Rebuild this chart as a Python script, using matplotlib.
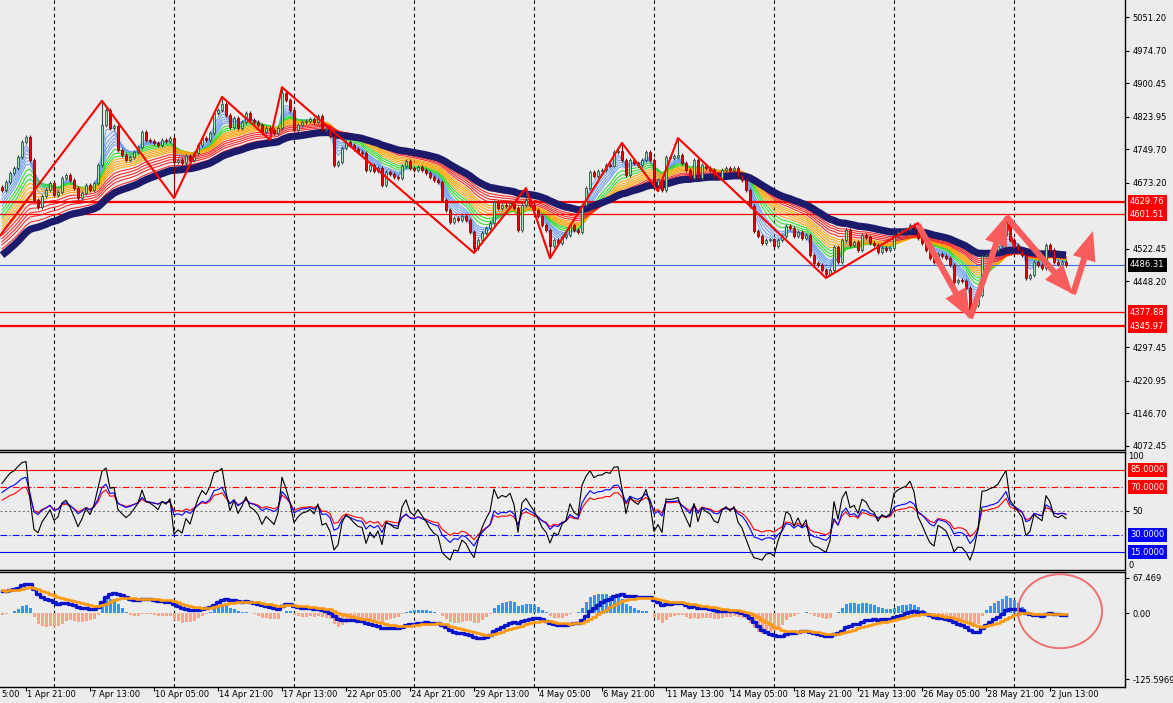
import matplotlib
matplotlib.use("Agg")
import matplotlib.pyplot as plt
import matplotlib.transforms as mtransforms
from matplotlib.patches import Ellipse
import numpy as np

plt.rcParams['font.family'] = ['DejaVu Sans']
plt.rcParams['font.size'] = 6

# ---- data (H4 candles) ------------------------------------------------
first_open = 4662
closes = [
    4657, 4675, 4695, 4707, 4732, 4766, 4777, 4725, 4634, 4618,
    4643, 4657, 4673, 4645, 4652, 4684, 4691, 4679, 4661, 4638,
    4650, 4668, 4657, 4673, 4714, 4805, 4839, 4798, 4802, 4748,
    4736, 4725, 4732, 4743, 4755, 4789, 4771, 4768, 4764, 4759,
    4771, 4768, 4775, 4720, 4725, 4718, 4734, 4725, 4741, 4759,
    4775, 4771, 4787, 4832, 4839, 4853, 4828, 4800, 4821, 4798,
    4812, 4832, 4816, 4812, 4805, 4789, 4798, 4793, 4787, 4798,
    4878, 4862, 4839, 4793, 4805, 4812, 4814, 4818, 4812, 4825,
    4793, 4795, 4780, 4714, 4720, 4752, 4766, 4759, 4750, 4743,
    4741, 4702, 4714, 4700, 4707, 4668, 4698, 4693, 4686, 4684,
    4711, 4723, 4707, 4702, 4709, 4702, 4695, 4686, 4679, 4675,
    4634, 4611, 4584, 4593, 4588, 4597, 4588, 4561, 4524, 4542,
    4558, 4570, 4581, 4629, 4615, 4622, 4620, 4627, 4615, 4565,
    4622, 4634, 4622, 4611, 4597, 4577, 4565, 4529, 4542, 4536,
    4549, 4554, 4577, 4565, 4561, 4622, 4661, 4698, 4688, 4700,
    4702, 4714, 4713, 4743, 4745, 4725, 4691, 4725, 4718, 4714,
    4725, 4743, 4725, 4668, 4679, 4657, 4732, 4731, 4733, 4736,
    4718, 4702, 4684, 4725, 4684, 4714, 4707, 4702, 4688, 4684,
    4702, 4707, 4702, 4707, 4688, 4679, 4657, 4620, 4563, 4552,
    4536, 4542, 4543, 4529, 4542, 4552, 4574, 4570, 4552, 4561,
    4547, 4554, 4508, 4490, 4485, 4474, 4465, 4474, 4526, 4492,
    4542, 4565, 4531, 4537, 4520, 4554, 4549, 4536, 4531, 4515,
    4524, 4520, 4524, 4554, 4561, 4565, 4568, 4577, 4570, 4547,
    4536, 4520, 4501, 4492, 4510, 4506, 4501, 4485, 4447, 4451,
    4449, 4433, 4383, 4394, 4417, 4506, 4508, 4515, 4520, 4529,
    4554, 4588, 4542, 4531, 4520, 4508, 4456, 4463, 4492, 4485,
    4479, 4531, 4520, 4492, 4488, 4492, 4486.31,
]

# zigzag pivots (candle index, price)
zigzag_idx = [-3, 25, 43, 55, 67, 70, 118, 131, 137, 155, 164, 169, 206, 229, 242, 251, 253]
zigzag_price = [4522, 4860, 4638, 4869, 4771, 4891, 4513, 4661, 4501, 4764,
                4654, 4775, 4456, 4581, 4366, 4594, 4526]

# moving-average ribbon, value of each average at the first candle
ribbon_periods = [3, 4, 5, 6, 7, 8, 10, 12, 14, 16, 18, 20, 22, 24, 27, 30, 33, 36, 40]
ribbon_start = [4661, 4650, 4638, 4627, 4618, 4609, 4601, 4593, 4584, 4579,
                4572, 4565, 4558, 4552, 4545, 4538, 4531, 4524, 4515]
ribbon_colors = ['#6a9ff0'] * 6 + ['#22dd22'] * 3 + ['#ffa500'] * 5 + ['#ff1a1a'] * 5
trend_period = 45
trend_start = 4501

thick_levels = [4629.76, 4345.97]
thin_levels = [4601.51, 4377.88]
last_price = 4486.31
price_ticks = [5051.20, 4974.70, 4900.45, 4823.95, 4749.70, 4673.20,
               4522.45, 4448.20, 4297.45, 4220.95, 4146.70, 4072.45]

rsi_periods = [6, 14, 20]
rsi_start = [77, 67, 60]
rsi_colors = ['black', '#0000ff', '#ff0000']

macd_fast_start, macd_slow_start, macd_signal_start = 4622, 4580, 44
macd_ticks = [67.469, 0.0, -125.5969]
macd_ticklabels = ['67.469', '0.00', '-125.5969']

# first label is only partly visible at the left edge
time_labels = ['5:00', '1 Apr 21:00', '7 Apr 13:00', '10 Apr 05:00', '14 Apr 21:00',
               '17 Apr 13:00', '22 Apr 05:00', '24 Apr 21:00', '29 Apr 13:00', '4 May 05:00',
               '6 May 21:00', '11 May 13:00', '14 May 05:00', '18 May 21:00', '21 May 13:00',
               '26 May 05:00', '28 May 21:00', '2 Jun 13:00']

# hand-drawn forecast arrows: (from index, from price, to index, to price)
arrows = [(229, 4577, 242, 4364), (242, 4364, 251, 4597),
          (251, 4597, 267.75, 4419), (267.75, 4419, 272.75, 4563)]


# ---- helpers ------------------------------------------------------------
def ema(values, period, start):
    a = 2.0 / (period + 1)
    out, e = [], start
    for v in values:
        e = e + a * (v - e)
        out.append(e)
    return np.array(out)


def rsi(values, prev, period, start):
    ag = 20 * start / 100.
    al = 20 * (1 - start / 100.)
    out = []
    for v in values:
        ch = v - prev
        prev = v
        ag = (ag * (period - 1) + max(ch, 0)) / period
        al = (al * (period - 1) + max(-ch, 0)) / period
        out.append(100 * ag / (ag + al))
    return np.array(out)


c = np.array(closes, dtype=float)
N = len(c)
x = np.arange(N)
o = np.concatenate([[first_open], c[:-1]])
wick = 5
highs = np.maximum(o, c) + wick
lows = np.minimum(o, c) - wick
for k, (i, p) in enumerate(zip(zigzag_idx, zigzag_price)):
    if i < 0 or i >= N:
        continue
    prev_p = zigzag_price[k - 1]
    if p > prev_p:
        highs[i] = max(highs[i], p)
    else:
        lows[i] = min(lows[i], p)

bg = '#ececec'
W, H = 1173, 703
fig = plt.figure(figsize=(W / 100, H / 100), dpi=100, facecolor=bg)


def panel(top, bottom):
    ax = fig.add_axes([0, (H - bottom) / H, 1125 / W, (bottom - top) / H])
    ax.set_facecolor(bg)
    ax.set_xlim(-0.5, 280.75)
    ax.yaxis.tick_right()
    ax.tick_params(axis='y', length=3, width=0.8, pad=2.2, labelsize=6, colors='black')
    ax.tick_params(axis='x', length=0, labelbottom=False)
    for s in ax.spines.values():
        s.set_color('black')
        s.set_linewidth(1.0)
    ax.spines['left'].set_visible(False)
    return ax


ax1 = panel(0, 450)
ax2 = panel(452, 570)
ax3 = panel(572, 687)
ax1.spines['top'].set_visible(False)

for ax in (ax1, ax2, ax3):
    for g in range(13, N, 30):
        ax.axvline(g, color='black', lw=0.8, ls=(0, (3, 3)), zorder=0.5)

# ---- main price panel -----------------------------------------------------
ax1.set_ylim(4063.3, 5090.0)
for per, col, st in zip(ribbon_periods, ribbon_colors, ribbon_start):
    ax1.plot(x, ema(c, per, st), color=col, lw=0.7, zorder=1)
ax1.plot(x, ema(c, trend_period, trend_start), color='#1c1a6b', lw=5.2, zorder=2,
         solid_capstyle='butt')

for lv in thick_levels:
    ax1.axhline(lv, color='#ff0000', lw=1.6, zorder=1.5)
for lv in thin_levels:
    ax1.axhline(lv, color='#ff0000', lw=0.9, zorder=1.5)
ax1.axhline(last_price, color='#3b6be0', lw=0.8, zorder=1.5)

up = c >= o
body_col = np.where(up, '#98ee98', '#ee0000')
edge_col = np.where(up, '#2f4f4f', '#8b0000')
ax1.vlines(x, lows, highs, colors=edge_col, lw=0.8, zorder=3)
ax1.bar(x, np.abs(c - o) + 1.2, bottom=np.minimum(o, c) - 0.6, width=0.7,
        color=body_col, edgecolor=edge_col, linewidth=0.6, zorder=4)

ax1.plot(zigzag_idx, zigzag_price, color='#ff0000', lw=1.5, zorder=5)

for x0, y0, x1, y1 in arrows:
    ax1.annotate('', xy=(x1, y1), xytext=(x0, y0), zorder=6, annotation_clip=False,
                 arrowprops=dict(arrowstyle='simple,head_length=1.05,head_width=0.85,tail_width=0.22',
                                 color='#f85c5c', mutation_scale=20, shrinkA=0, shrinkB=0, lw=0))

ax1.set_yticks(price_ticks)
ax1.set_yticklabels([f'{t:.2f}' for t in price_ticks])


def box_label(ax, y, text, fc):
    ax.annotate(text, xy=(1, y), xycoords=('axes fraction', 'data'), xytext=(3.6, 0),
                textcoords='offset points', ha='left', va='center', color='white', fontsize=6,
                bbox=dict(boxstyle='square,pad=0.3', fc=fc, ec='none'), annotation_clip=False)


for lv in thick_levels + thin_levels:
    box_label(ax1, lv, f'{lv:.2f}', '#ff0000')
box_label(ax1, last_price, f'{last_price:.2f}', 'black')

# ---- RSI panel --------------------------------------------------------------
ax2.set_ylim(0, 100)
ax2.axhline(85, color='#ff0000', lw=0.8)
ax2.axhline(70, color='#ff0000', lw=0.8, ls=(0, (6, 2, 1, 2)))
ax2.axhline(50, color='#777777', lw=0.8, ls=(0, (2, 2)))
ax2.axhline(30, color='#0000ff', lw=0.8, ls=(0, (6, 2, 1, 2)))
ax2.axhline(15, color='#0000ff', lw=0.8)
for per, st, col in zip(rsi_periods[::-1], rsi_start[::-1], rsi_colors[::-1]):
    ax2.plot(x, rsi(c, first_open, per, st), color=col, lw=0.8)
ax2.set_yticks([50])
ax2.set_yticklabels(['50'])
tr2 = mtransforms.blended_transform_factory(ax2.transAxes, ax2.transData)
ax2.text(1.003, 100, '100', transform=tr2, ha='left', va='top', fontsize=6)
ax2.text(1.003, 0, '0', transform=tr2, ha='left', va='bottom', fontsize=6)
box_label(ax2, 85, '85.0000', '#ff0000')
box_label(ax2, 70, '70.0000', '#ff0000')
box_label(ax2, 30, '30.0000', '#0000ff')
box_label(ax2, 15, '15.0000', '#0000ff')

# ---- MACD panel -------------------------------------------------------------
ax3.set_ylim(-140.4, 78.7)
macd = ema(c, 12, macd_fast_start) - ema(c, 26, macd_slow_start)
signal = ema(macd, 9, macd_signal_start)
hist = 2 * (macd - signal)
ax3.bar(x, hist, width=0.75, color=np.where(hist >= 0, '#3a93f0', '#f6a68a'), zorder=1)
ax3.plot(x, macd, color='#0a14c8', lw=2.4, drawstyle='steps-mid', zorder=2)
ax3.plot(x, signal, color='#ff9a10', lw=1.9, drawstyle='steps-mid', zorder=3)
ax3.add_patch(Ellipse((264.5, 4), 21, 141, fill=False, ec='#f07070', lw=1.4, zorder=4))
ax3.set_yticks(macd_ticks)
ax3.set_yticklabels(macd_ticklabels)

label_pos = [-0.5] + [6 + 16 * k for k in range(len(time_labels) - 1)]
ax3.set_xticks(label_pos[1:])
ax3.tick_params(axis='x', length=3, width=0.8, labelbottom=False)
tr = mtransforms.blended_transform_factory(ax3.transData, ax3.transAxes)
for p, lab in zip(label_pos, time_labels):
    ax3.text(p + 0.3, -0.025, lab, transform=tr, ha='left', va='top', fontsize=6, clip_on=False)

fig.savefig('out.png', dpi=100, facecolor=bg)
